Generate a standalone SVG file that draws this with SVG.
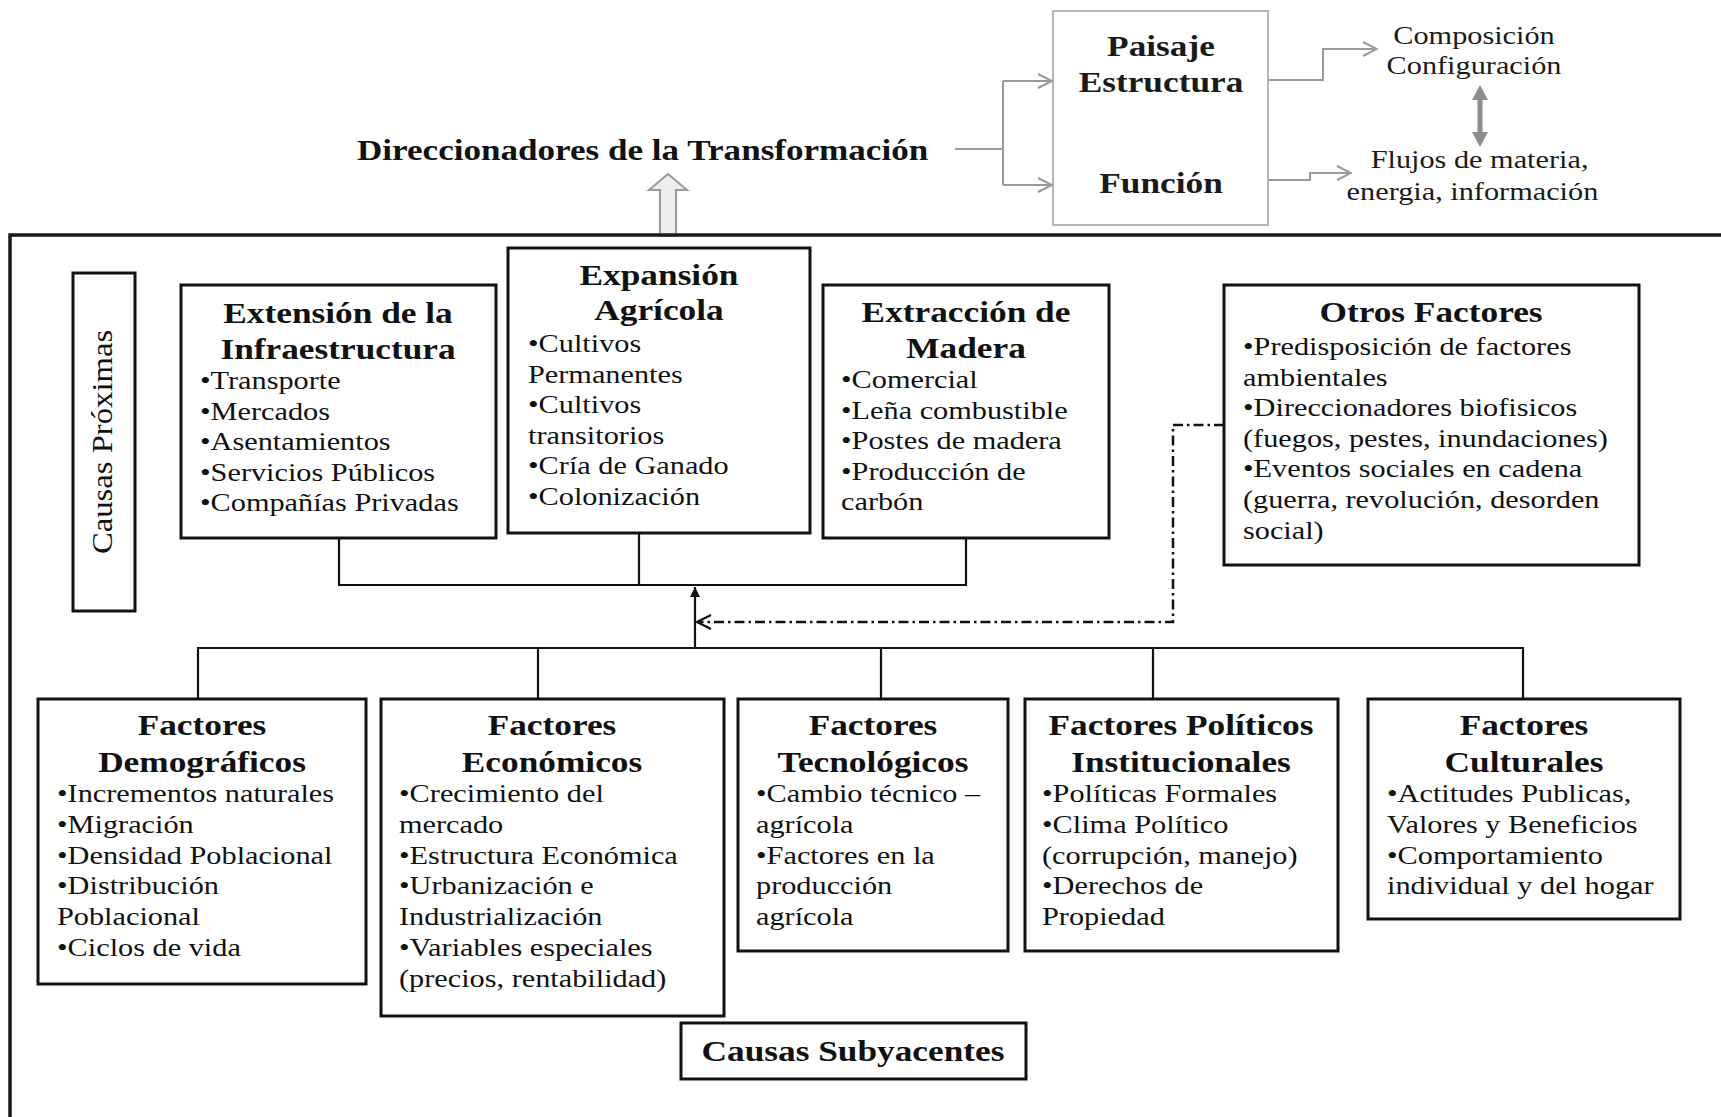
<svg xmlns="http://www.w3.org/2000/svg" width="1721" height="1117" viewBox="0 0 1721 1117">
<style>
.h{font-family:"Liberation Serif","Times New Roman",serif;font-weight:bold;font-size:29px;fill:#111;text-anchor:middle}
.t{font-family:"Liberation Serif","Times New Roman",serif;font-size:25.5px;fill:#111}
.tc{font-family:"Liberation Serif","Times New Roman",serif;font-size:25.5px;fill:#1a1a1a;text-anchor:middle}
.box{fill:#fff;stroke:#111;stroke-width:3}
.conn{fill:none;stroke:#111;stroke-width:2.2}
.gconn{fill:none;stroke:#9a9a9a;stroke-width:2}
</style>
<defs>
<marker id="og" viewBox="0 0 16 16" refX="15" refY="8" markerWidth="16" markerHeight="16" markerUnits="userSpaceOnUse" orient="auto"><path d="M1,1 L15,8 L1,15" fill="none" stroke="#9a9a9a" stroke-width="2"/></marker>
<marker id="ok" viewBox="0 0 16 16" refX="15" refY="8" markerWidth="16" markerHeight="16" markerUnits="userSpaceOnUse" orient="auto"><path d="M1,1 L15,8 L1,15" fill="none" stroke="#111" stroke-width="2.2"/></marker>
<marker id="fk" viewBox="0 0 10 10" refX="10" refY="5" markerWidth="10" markerHeight="10" markerUnits="userSpaceOnUse" orient="auto"><path d="M0,0 L10,5 L0,10 z" fill="#111"/></marker>
</defs>
<rect width="1721" height="1117" fill="#fff"/>

<g id="title">
<text class="h" style="text-anchor:start;font-size:30px" transform="matrix(1.17 0 0 1 357 160)">Direccionadores de la Transformación</text>
</g>

<g id="block-arrow">
<polygon points="668,174 687,190 676,190 676,236 660,236 660,190 649,190" fill="#eeeeee" stroke="#9a9a9a" stroke-width="2"/>
</g>

<g id="frame">
<path d="M10,1117 V235 H1721" fill="none" stroke="#1a1a1a" stroke-width="3.5"/>
</g>

<g id="paisaje">
<rect x="1053" y="11" width="215" height="214" fill="#fff" stroke="#b5b5b5" stroke-width="2"/>
<text class="h" style="fill:#1a1a1a" transform="matrix(1.217 0 0 1 1161 56)"><tspan x="0" y="0">Paisaje</tspan><tspan x="0" y="36">Estructura</tspan><tspan x="0" y="137">Función</tspan></text>
</g>

<g id="composicion">
<text class="tc" transform="matrix(1.188 0 0 1 1474 44)"><tspan x="0" y="0">Composición</tspan><tspan x="0" y="30">Configuración</tspan></text>
</g>

<g id="flujos">
<text class="tc" transform="matrix(1.188 0 0 1 1476 168)"><tspan x="3" y="0">Flujos de materia,</tspan><tspan x="-3" y="32">energia, información</tspan></text>
</g>

<g id="causas-proximas">
<rect class="box" x="73" y="273" width="62" height="338"/>
<text class="tc" style="font-size:30px;fill:#111" transform="translate(112,442) rotate(-90) scale(1.09,1)">Causas Próximas</text>
</g>

<g id="extension">
<rect class="box" x="181" y="285" width="315" height="253"/>
<text class="h" transform="matrix(1.217 0 0 1 338 323)"><tspan x="0" y="0">Extensión de la</tspan><tspan x="0" y="36">Infraestructura</tspan></text>
<text class="t" transform="matrix(1.188 0 0 1 200 389)"><tspan x="0" y="0">•Transporte</tspan><tspan x="0" y="30.6">•Mercados</tspan><tspan x="0" y="61.2">•Asentamientos</tspan><tspan x="0" y="91.8">•Servicios Públicos</tspan><tspan x="0" y="122.4">•Compañías Privadas</tspan></text>
</g>

<g id="expansion">
<rect class="box" x="508" y="248" width="302" height="285"/>
<text class="h" transform="matrix(1.217 0 0 1 659 285)"><tspan x="0" y="0">Expansión</tspan><tspan x="0" y="35">Agrícola</tspan></text>
<text class="t" transform="matrix(1.188 0 0 1 528 352)"><tspan x="0" y="0">•Cultivos</tspan><tspan x="0" y="30.6">Permanentes</tspan><tspan x="0" y="61.2">•Cultivos</tspan><tspan x="0" y="91.8">transitorios</tspan><tspan x="0" y="122.4">•Cría de Ganado</tspan><tspan x="0" y="153">•Colonización</tspan></text>
</g>

<g id="extraccion">
<rect class="box" x="823" y="285" width="286" height="253"/>
<text class="h" transform="matrix(1.217 0 0 1 966 322)"><tspan x="0" y="0">Extracción de</tspan><tspan x="0" y="36">Madera</tspan></text>
<text class="t" transform="matrix(1.188 0 0 1 841 388)"><tspan x="0" y="0">•Comercial</tspan><tspan x="0" y="30.6">•Leña combustible</tspan><tspan x="0" y="61.2">•Postes de madera</tspan><tspan x="0" y="91.8">•Producción de</tspan><tspan x="0" y="122.4">carbón</tspan></text>
</g>

<g id="otros">
<rect class="box" x="1224" y="285" width="415" height="280"/>
<text class="h" transform="matrix(1.217 0 0 1 1431 322)">Otros Factores</text>
<text class="t" transform="matrix(1.188 0 0 1 1243 355)"><tspan x="0" y="0">•Predisposición de factores</tspan><tspan x="0" y="30.6">ambientales</tspan><tspan x="0" y="61.2">•Direccionadores biofisicos</tspan><tspan x="0" y="91.8">(fuegos, pestes, inundaciones)</tspan><tspan x="0" y="122.4">•Eventos sociales en cadena</tspan><tspan x="0" y="153">(guerra, revolución, desorden</tspan><tspan x="0" y="183.6">social)</tspan></text>
</g>

<g id="demograficos">
<rect class="box" x="38" y="699" width="328" height="285"/>
<text class="h" transform="matrix(1.217 0 0 1 202 735)"><tspan x="0" y="0">Factores</tspan><tspan x="0" y="37">Demográficos</tspan></text>
<text class="t" transform="matrix(1.188 0 0 1 57 802)"><tspan x="0" y="0">•Incrementos  naturales</tspan><tspan x="0" y="30.8">•Migración</tspan><tspan x="0" y="61.6">•Densidad Poblacional</tspan><tspan x="0" y="92.4">•Distribución</tspan><tspan x="0" y="123.2">Poblacional</tspan><tspan x="0" y="154">•Ciclos de vida</tspan></text>
</g>

<g id="economicos">
<rect class="box" x="381" y="699" width="343" height="317"/>
<text class="h" transform="matrix(1.217 0 0 1 552 735)"><tspan x="0" y="0">Factores</tspan><tspan x="0" y="37">Económicos</tspan></text>
<text class="t" transform="matrix(1.188 0 0 1 399 802)"><tspan x="0" y="0">•Crecimiento del</tspan><tspan x="0" y="30.8">mercado</tspan><tspan x="0" y="61.6">•Estructura Económica</tspan><tspan x="0" y="92.4">•Urbanización e</tspan><tspan x="0" y="123.2">Industrialización</tspan><tspan x="0" y="154">•Variables especiales</tspan><tspan x="0" y="184.8">(precios, rentabilidad)</tspan></text>
</g>

<g id="tecnologicos">
<rect class="box" x="738" y="699" width="270" height="252"/>
<text class="h" transform="matrix(1.217 0 0 1 873 735)"><tspan x="0" y="0">Factores</tspan><tspan x="0" y="37">Tecnológicos</tspan></text>
<text class="t" transform="matrix(1.188 0 0 1 756 802)"><tspan x="0" y="0">•Cambio técnico –</tspan><tspan x="0" y="30.8">agrícola</tspan><tspan x="0" y="61.6">•Factores en la</tspan><tspan x="0" y="92.4">producción</tspan><tspan x="0" y="123.2">agrícola</tspan></text>
</g>

<g id="politicos">
<rect class="box" x="1025" y="699" width="313" height="252"/>
<text class="h" transform="matrix(1.217 0 0 1 1181 735)"><tspan x="0" y="0">Factores Políticos</tspan><tspan x="0" y="37">Institucionales</tspan></text>
<text class="t" transform="matrix(1.188 0 0 1 1042 802)"><tspan x="0" y="0">•Políticas Formales</tspan><tspan x="0" y="30.8">•Clima Político</tspan><tspan x="0" y="61.6">(corrupción, manejo)</tspan><tspan x="0" y="92.4">•Derechos de</tspan><tspan x="0" y="123.2">Propiedad</tspan></text>
</g>

<g id="culturales">
<rect class="box" x="1368" y="699" width="312" height="220"/>
<text class="h" transform="matrix(1.217 0 0 1 1524 735)"><tspan x="0" y="0">Factores</tspan><tspan x="0" y="37">Culturales</tspan></text>
<text class="t" transform="matrix(1.188 0 0 1 1387 802)"><tspan x="0" y="0">•Actitudes Publicas,</tspan><tspan x="0" y="30.8">Valores y Beneficios</tspan><tspan x="0" y="61.6">•Comportamiento</tspan><tspan x="0" y="92.4">individual y del hogar</tspan></text>
</g>

<g id="causas-subyacentes">
<rect class="box" x="681" y="1023" width="345" height="56"/>
<text class="h" transform="matrix(1.217 0 0 1 853 1061)">Causas Subyacentes</text>
</g>

<g id="connectors">
<path class="gconn" d="M955,149 H1003 M1003,81 V185"/>
<path class="gconn" d="M1003,81 H1052" marker-end="url(#og)"/>
<path class="gconn" d="M1003,185 H1052" marker-end="url(#og)"/>
<path class="gconn" d="M1268,80 H1323 V49 H1377" marker-end="url(#og)"/>
<path class="gconn" d="M1268,180 H1310 V173 H1351" marker-end="url(#og)"/>
<polygon points="1480,85 1488,100 1482.5,100 1482.5,132 1488,132 1480,147 1472,132 1477.5,132 1477.5,100 1472,100" fill="#8c8c8c"/>
<path class="conn" d="M339,538 V585 M639,533 V585 M966,538 V585 M338,585 H967"/>
<path class="conn" d="M695,648 V587" marker-end="url(#fk)"/>
<path class="conn" d="M197,648 H1524 M198,647 V699 M538,648 V699 M881,648 V699 M1153,648 V699 M1523,647 V699"/>
<path class="conn" style="stroke-width:2.5" d="M1224,425 H1173 V622 H697" stroke-dasharray="10 4 2.5 4" marker-end="url(#ok)"/>
</g>
</svg>
